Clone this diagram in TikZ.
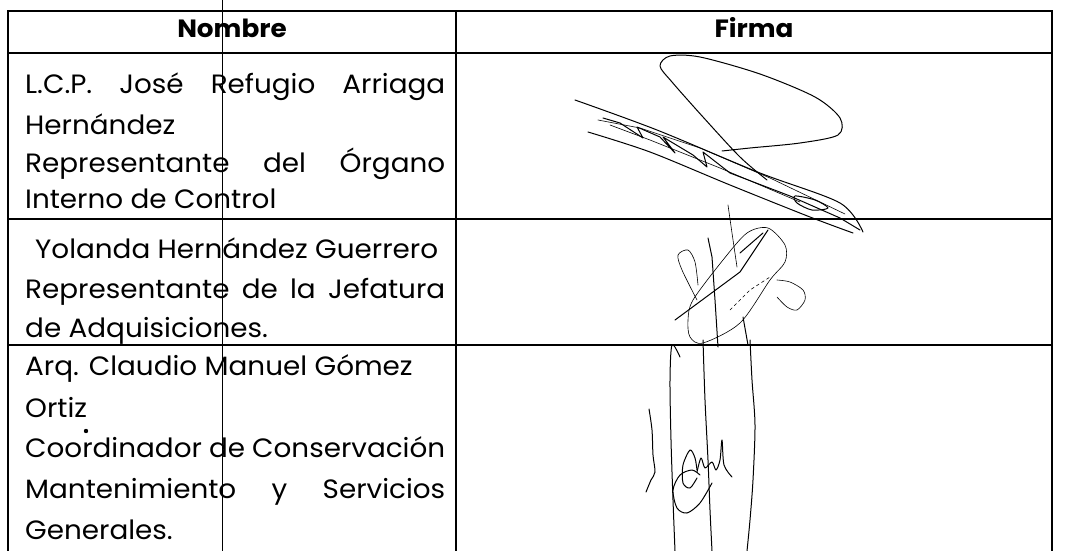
\documentclass[tikz,border=0pt]{standalone}
\usepackage{fontspec}
\setmainfont{Poppins}[FakeStretch=1.05]
\begin{document}
\begin{tikzpicture}[x=1pt,y=-1pt,
  grid/.style={line width=1.2pt},
  txt/.style={anchor=base west, inner sep=0pt, font=\fontsize{26.5}{30}\selectfont},
  hdr/.style={anchor=base, inner sep=0pt, font=\fontsize{25}{30}\selectfont\bfseries},
  sig/.style={line width=1pt, line cap=round, line join=round},
  thin sig/.style={line width=0.6pt, line cap=round, line join=round}]
\useasboundingbox (0,0) rectangle (1085,551);
\fill[white] (0,0) rectangle (1085,551);
% table
\draw[grid] (8,551) -- (8,11) -- (1052,11) -- (1052,551);
\draw[grid] (8,53) -- (1052,53);
\draw[grid] (8,219) -- (1052,219);
\draw[grid] (8,345) -- (1052,345);
\draw[grid] (456,11) -- (456,551);
\draw[line width=0.8pt] (222,0) -- (222,551);
% headers
\node[hdr] (hn) at (232,38) {Nombre};
\node[hdr] (hf) at (754,38) {Firma};
% row 1
\node[txt] (r1a) at (25,94) {\hbox to 420pt{L.C.P.\hfill José\hfill Refugio\hfill Arriaga}};
\node[txt] (r1b) at (25,134) {Hernández};
\node[txt] (r1c) at (25,172) {\hbox to 420pt{Representante\hfill del\hfill Órgano}};
\node[txt] (r1d) at (25,208) {Interno de Control};
% row 2
\node[txt] (r2a) at (35,258) {Yolanda Hernández Guerrero};
\node[txt] (r2b) at (25,298) {\hbox to 420pt{Representante\hfill de\hfill la\hfill Jefatura}};
\node[txt] (r2c) at (25,337) {de Adquisiciones.};
% row 3
\node[txt] (r3a) at (25,375) {Arq. Claudio Manuel Gómez};
\node[txt] (r3b) at (25,417) {Ortiz};
\node[txt] (r3c) at (25,457) {\hbox to 420pt{Coordinador\hfill de\hfill Conservación}};
\node[txt] (r3d) at (25,498) {\hbox to 420pt{Mantenimiento\hfill y\hfill Servicios}};
\node[txt] (r3e) at (25,539) {Generales.};
\fill (86,431) circle (2.2);
% signature 1
\draw[sig] plot[smooth] coordinates {(767,180) (740,157) (703,117) (672,82) (660,66) (670,56) (700,57) (760,74) (815,97) (840,118) (838,135) (800,143) (750,148) (722,151)};
\draw[sig] plot[smooth] coordinates {(575,100) (657,130) (760,173) (840,203) (863,232)};
\draw[sig] plot[smooth] coordinates {(588,132) (650,152) (730,185) (810,217) (853,233)};
\draw[sig] (603,118) -- (620,123) -- (643,138) -- (637,127) -- (660,137) -- (675,153) -- (663,137) -- (693,155) -- (707,167) -- (703,152) -- (730,173) -- (790,196) -- (840,218) -- (860,230);
\draw[thin sig] (598,120) -- (640,128) -- (700,148) -- (770,178) -- (845,214);
\draw[thin sig] (610,125) -- (650,140) -- (720,168) -- (800,202);
\draw[sig] plot[smooth cycle] coordinates {(795,196) (815,200) (828,208) (812,210) (797,203)};
% signature 2
\draw[thin sig] plot[smooth cycle] coordinates {(768,228) (785,245) (785,262) (770,280) (740,323) (703,343) (690,337) (688,320) (693,300) (723,260) (747,233)};
\draw[thin sig] plot[smooth] coordinates {(697,300) (682,270) (678,255) (688,250) (695,262) (698,285)};
\draw[thin sig] plot[smooth] coordinates {(777,280) (790,282) (803,290) (805,300) (797,310) (787,307) (777,297)};
\draw[sig] (675,320) -- (740,272) -- (768,230);
\draw[sig] (740,253) -- (763,233);
\draw[thin sig, dashed] (730,310) -- (750,290) -- (770,277);
\draw[thin sig] (728,205) -- (732,233) -- (737,267);
\draw[sig] (708,238) -- (712,257) -- (715,300) -- (718,347);
\draw[sig] (743,317) -- (748,345);
% signature 3
\draw[sig] plot[smooth] coordinates {(680,357) (672,345) (670,380) (671,440) (673,500) (675,551)};
\draw[sig] plot[smooth] coordinates {(703,340) (705,400) (708,460) (710,510) (712,551)};
\draw[sig] plot[smooth] coordinates {(750,340) (752,380) (755,425) (753,480) (750,520) (747,551)};
\draw[sig] plot[smooth] coordinates {(649,409) (652,430) (653,455) (655,472) (651,480) (646,492)};
\draw[sig] plot[smooth] coordinates {(712,483) (700,503) (687,513) (677,508) (673,490) (680,475) (692,470) (700,475)};
\draw[sig] plot[smooth] coordinates {(697,478) (690,488) (683,483) (683,465) (690,450) (695,458) (697,470)};
\draw[sig] plot[smooth] coordinates {(697,472) (701,458) (705,468) (712,462) (716,470) (720,460) (722,440) (724,465) (732,477)};
\end{tikzpicture}
\end{document}
